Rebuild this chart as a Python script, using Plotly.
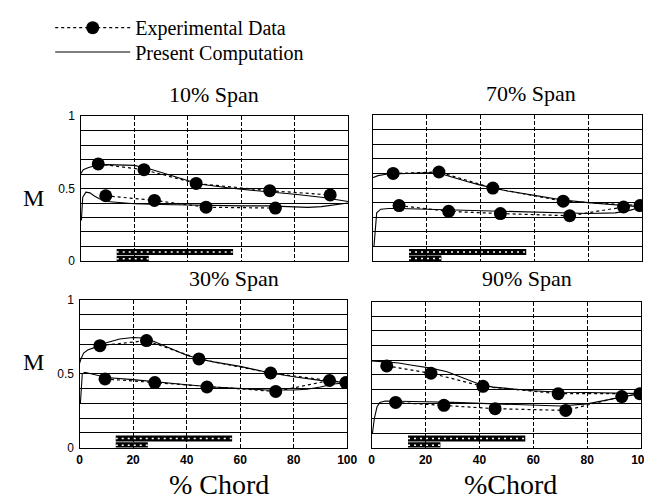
import plotly.graph_objects as go

W, H = 652, 503

# ---------------- data ----------------
span_titles = ["10% Span", "70% Span", "30% Span", "90% Span"]
x_tick_vals = [0, 20, 40, 60, 80, 100]
x_tick_text = ["0", "20", "40", "60", "80", "100"]
y_tick_vals = [0, 0.1, 0.2, 0.3, 0.4, 0.5, 0.6, 0.7, 0.8, 0.9, 1.0]
y_tick_text = ["0", "", "", "", "", "0.5", "", "", "", "", "1"]

# 10% span
exp_up_x_10 = [6.6, 23.7, 43.2, 70.7, 93.3]
exp_up_y_10 = [0.67, 0.63, 0.535, 0.485, 0.456]
exp_lo_x_10 = [9.4, 27.6, 46.9, 72.8]
exp_lo_y_10 = [0.45, 0.418, 0.371, 0.365]
cmp_up_x_10 = [0, 1, 3, 6, 10, 15, 20, 25, 30, 35, 40, 45, 50, 55, 60, 70, 80, 90, 95, 100]
cmp_up_y_10 = [0.60, 0.63, 0.645, 0.66, 0.665, 0.665, 0.66, 0.64, 0.61, 0.58, 0.555, 0.53, 0.515,
               0.505, 0.495, 0.48, 0.46, 0.44, 0.425, 0.41]
cmp_lo_x_10 = [0.3, 0.8, 2, 3.5, 5, 7, 10, 15, 20, 30, 40, 50, 60, 70, 80, 85, 90, 95, 100]
cmp_lo_y_10 = [0.28, 0.44, 0.475, 0.47, 0.45, 0.43, 0.41, 0.40, 0.395, 0.39, 0.385, 0.38, 0.38,
               0.38, 0.375, 0.37, 0.375, 0.385, 0.40]

# 70% span
exp_up_x_70 = [7.6, 24.6, 44.6, 70.7, 99.2]
exp_up_y_70 = [0.60, 0.61, 0.50, 0.41, 0.38]
exp_lo_x_70 = [9.8, 28.2, 47.4, 73.1, 93.1]
exp_lo_y_70 = [0.38, 0.34, 0.325, 0.31, 0.37]
cmp_up_x_70 = [0, 2, 5, 10, 20, 25, 30, 35, 40, 45, 50, 60, 70, 80, 90, 100]
cmp_up_y_70 = [0.57, 0.585, 0.595, 0.60, 0.605, 0.60, 0.57, 0.545, 0.52, 0.50, 0.48, 0.45, 0.42,
               0.40, 0.385, 0.37]
cmp_lo_x_70 = [0.5, 1, 1.5, 3, 6, 10, 20, 30, 40, 50, 60, 70, 80, 90, 95, 100]
cmp_lo_y_70 = [0.10, 0.24, 0.33, 0.355, 0.36, 0.36, 0.355, 0.345, 0.34, 0.335, 0.335, 0.33,
               0.325, 0.33, 0.345, 0.37]

# 30% span
exp_up_x_30 = [7.6, 25.0, 44.6, 71.4, 99.5]
exp_up_y_30 = [0.69, 0.724, 0.60, 0.505, 0.44]
exp_lo_x_30 = [9.5, 28.1, 47.6, 73.3, 93.4]
exp_lo_y_30 = [0.465, 0.44, 0.41, 0.38, 0.454]
cmp_up_x_30 = [0, 0.5, 1.5, 3, 6, 10, 15, 20, 25, 30, 35, 40, 45, 50, 60, 70, 80, 90, 100]
cmp_up_y_30 = [0.57, 0.60, 0.64, 0.66, 0.68, 0.71, 0.735, 0.745, 0.74, 0.70, 0.66, 0.625, 0.60,
               0.58, 0.55, 0.51, 0.48, 0.455, 0.44]
cmp_lo_x_30 = [0.3, 0.6, 1, 2, 4, 7, 10, 20, 30, 40, 50, 60, 70, 80, 85, 90, 95, 100]
cmp_lo_y_30 = [0.30, 0.44, 0.50, 0.51, 0.50, 0.49, 0.475, 0.46, 0.44, 0.425, 0.41, 0.40, 0.39,
               0.39, 0.395, 0.41, 0.43, 0.44]

# 90% span
exp_up_x_90 = [5.6, 22.0, 41.3, 69.2, 99.5]
exp_up_y_90 = [0.56, 0.51, 0.42, 0.37, 0.37]
exp_lo_x_90 = [8.9, 26.8, 45.8, 72.0, 92.8]
exp_lo_y_90 = [0.31, 0.29, 0.267, 0.255, 0.35]
cmp_up_x_90 = [0, 10, 15, 22, 28, 35, 40, 45, 50, 60, 65, 70, 80, 90, 100]
cmp_up_y_90 = [0.595, 0.58, 0.565, 0.545, 0.52, 0.47, 0.435, 0.415, 0.405, 0.39, 0.385, 0.38,
               0.378, 0.375, 0.37]
cmp_lo_x_90 = [0.3, 1, 2, 3, 5, 10, 20, 30, 40, 50, 60, 70, 80, 85, 90, 95, 100]
cmp_lo_y_90 = [0.10, 0.20, 0.28, 0.31, 0.32, 0.32, 0.315, 0.31, 0.305, 0.30, 0.29, 0.285,
               0.30, 0.32, 0.34, 0.355, 0.37]

# hatched strips near the bottom of each panel
strip_long_x = [13.5, 57.0]
strip_long_y = [0.062, 0.062]
strip_short_x = [13.5, 25.5]
strip_short_y = [0.016, 0.016]

panels = [
    dict(title=span_titles[0], eux=exp_up_x_10, euy=exp_up_y_10, elx=exp_lo_x_10, ely=exp_lo_y_10,
         cux=cmp_up_x_10, cuy=cmp_up_y_10, clx=cmp_lo_x_10, cly=cmp_lo_y_10),
    dict(title=span_titles[1], eux=exp_up_x_70, euy=exp_up_y_70, elx=exp_lo_x_70, ely=exp_lo_y_70,
         cux=cmp_up_x_70, cuy=cmp_up_y_70, clx=cmp_lo_x_70, cly=cmp_lo_y_70),
    dict(title=span_titles[2], eux=exp_up_x_30, euy=exp_up_y_30, elx=exp_lo_x_30, ely=exp_lo_y_30,
         cux=cmp_up_x_30, cuy=cmp_up_y_30, clx=cmp_lo_x_30, cly=cmp_lo_y_30),
    dict(title=span_titles[3], eux=exp_up_x_90, euy=exp_up_y_90, elx=exp_lo_x_90, ely=exp_lo_y_90,
         cux=cmp_up_x_90, cuy=cmp_up_y_90, clx=cmp_lo_x_90, cly=cmp_lo_y_90),
]

# pixel boxes of the four panels: (left, right, top, bottom)
boxes = [(71, 344, 104, 253), (369, 644, 103, 253), (70, 343, 293, 445), (368, 643, 295, 445)]

SERIF = "Liberation Serif"
fig = go.Figure()

for i, (p, b) in enumerate(zip(panels, boxes)):
    n = i + 1
    xa, ya = ("x", "y") if n == 1 else (f"x{n}", f"y{n}")
    common = dict(xaxis=xa, yaxis=ya, hoverinfo="skip")
    # hatched strips
    for sx, sy in [(strip_long_x, strip_long_y), (strip_short_x, strip_short_y)]:
        fig.add_trace(go.Scatter(x=sx, y=sy, mode="lines", line=dict(color="black", width=6),
                                 showlegend=False, **common))
        fig.add_trace(go.Scatter(x=sx, y=sy, mode="lines",
                                 line=dict(color="white", width=1.5, dash="2px,4px"),
                                 showlegend=False, **common))
    # computations
    fig.add_trace(go.Scatter(x=p["cux"], y=p["cuy"], mode="lines",
                             line=dict(color="black", width=1.1),
                             name="Present Computation", legend="legend2",
                             showlegend=(n == 1), **common))
    fig.add_trace(go.Scatter(x=p["clx"], y=p["cly"], mode="lines",
                             line=dict(color="black", width=1.1),
                             showlegend=False, **common))
    # experiments
    fig.add_trace(go.Scatter(x=p["eux"], y=p["euy"], mode="lines+markers",
                             line=dict(color="black", width=1.2, dash="dot"),
                             marker=dict(color="black", size=13),
                             name="Experimental Data", legend="legend",
                             showlegend=(n == 1), **common))
    fig.add_trace(go.Scatter(x=p["elx"], y=p["ely"], mode="lines+markers",
                             line=dict(color="black", width=1.2, dash="dot"),
                             marker=dict(color="black", size=13),
                             showlegend=False, **common))

    l, r, t, bt = b
    left_col = n in (1, 3)
    bottom_row = n in (3, 4)
    xt = list(x_tick_text) if bottom_row else [""] * len(x_tick_vals)
    yt = y_tick_text if left_col else [""] * len(y_tick_vals)
    xkey = "xaxis" if n == 1 else f"xaxis{n}"
    ykey = "yaxis" if n == 1 else f"yaxis{n}"
    fig.update_layout(**{
        xkey: dict(domain=[l / W, r / W], anchor=ya, range=[0, 100],
                   tickmode="array", tickvals=x_tick_vals, ticktext=xt,
                   showgrid=True, gridcolor="black", gridwidth=1, griddash="4px,2px",
                   showline=True, mirror=True, linecolor="black", linewidth=1.3,
                   zeroline=False, ticks="", ticklabelstandoff=1,
                   tickfont=dict(family="Liberation Sans", size=12, color="black", weight="bold")),
        ykey: dict(domain=[1 - bt / H, 1 - t / H], anchor=xa, range=[0, 1],
                   tickmode="array", tickvals=y_tick_vals, ticktext=yt,
                   showgrid=True, gridcolor="black", gridwidth=1.3,
                   showline=True, mirror=True, linecolor="black", linewidth=1.3,
                   zeroline=False, ticks="", ticklabelstandoff=2,
                   tickfont=dict(family="Liberation Sans", size=12, color="black")),
    })


def ann(text, px, py, size, family=SERIF):
    return dict(text=text, x=px / W, y=1 - py / H, xref="paper", yref="paper",
                xanchor="center", yanchor="middle", showarrow=False,
                font=dict(family=family, size=size, color="black"))


annotations = [
    ann(span_titles[0], 207, 82, 22),
    ann(span_titles[1], 531, 81, 22),
    ann(span_titles[2], 228, 271, 22),
    ann(span_titles[3], 527, 271, 22),
    ann("M", 23, 188, 24),
    ann("M", 23, 357, 24),
    ann("% Chord", 212, 483, 28),
    ann("%Chord", 510, 483, 28),
]

legend_common = dict(xanchor="left", yanchor="middle", bgcolor="rgba(0,0,0,0)",
                     itemwidth=75, font=dict(family=SERIF, size=20, color="black"),
                     borderwidth=0)
fig.update_layout(
    width=W, height=H,
    margin=dict(l=0, r=0, t=0, b=0),
    paper_bgcolor="white", plot_bgcolor="white",
    annotations=annotations,
    legend=dict(x=40 / W, y=1 - 13 / H, **legend_common),
    legend2=dict(x=40 / W, y=1 - 38 / H, **legend_common),
)

fig.write_html("out.html")
